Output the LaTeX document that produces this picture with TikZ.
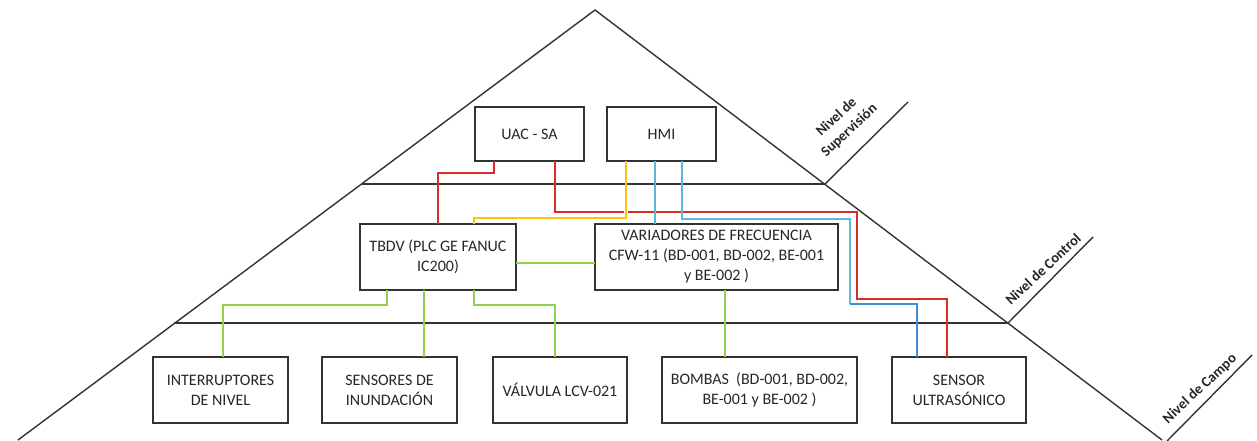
\documentclass[tikz,border=0pt]{standalone}
\usepackage{fontspec}
\setmainfont{Carlito}
\definecolor{ink}{HTML}{262626}
\definecolor{frame}{HTML}{333333}
\definecolor{wred}{HTML}{DA2B2B}
\definecolor{wyel}{HTML}{FFC20E}
\definecolor{wcyan}{HTML}{5BB8D8}
\definecolor{wblue}{HTML}{3C8ED6}
\definecolor{wgreen}{HTML}{92D050}
\begin{document}
\begin{tikzpicture}[x=1pt,y=-1pt,
  box/.style={draw=frame, line width=1.4pt, inner sep=0pt, outer sep=0pt,
    align=center, text=ink, font=\fontsize{16}{20}\selectfont},
  levelline/.style={draw=frame, line width=1.4pt},
  levellabel/.style={rotate=43, align=center, text=ink,
    font=\fontsize{14.5}{18.5}\selectfont\bfseries},
  wire/.style={line width=1.4pt}]
\useasboundingbox (0,0) rectangle (1257,440);
\clip (0,0) rectangle (1257,440);

% pyramid outline and level separators
\draw[levelline] (18,440) -- (595,10) -- (1162,440);
\draw[levelline] (362,184) -- (825,184);
\draw[levelline] (174,323) -- (1008,323);
\draw[levelline] (825,184) -- (908,102);
\draw[levelline] (1008,323) -- (1093,237);
\draw[levelline] (1167,441) -- (1252,355);

% level names
\node[levellabel] (lsup) at (843,124) {Nivel de\\Supervisión};
\node[levellabel] (lctl) at (1043,269) {Nivel de Control};
\node[levellabel] (lcam) at (1200,389) {Nivel de Campo};

% supervision level
\node[box, minimum width=109, minimum height=54] (uac) at (529.5,134) {UAC - SA};
\node[box, minimum width=109, minimum height=54] (hmi) at (661.5,134) {HMI};

% control level
\node[box, minimum width=156, minimum height=66] (tbdv) at (438,257)
  {TBDV (PLC GE FANUC\\IC200)};
\node[box, minimum width=243, minimum height=66] (vfd) at (716.5,257)
  {VARIADORES DE FRECUENCIA\\CFW-11 (BD-001, BD-002, BE-001\\y BE-002 )};

% field level
\node[box, minimum width=135, minimum height=66] (sw) at (220.5,390)
  {INTERRUPTORES\\DE NIVEL};
\node[box, minimum width=135, minimum height=66] (fl) at (389.5,390)
  {SENSORES DE\\INUNDACIÓN};
\node[box, minimum width=134, minimum height=66] (lcv) at (560,390)
  {VÁLVULA LCV-021};
\node[box, minimum width=195, minimum height=66] (pumps) at (759.5,390)
  {BOMBAS\ \ (BD-001, BD-002,\\BE-001 y BE-002 )};
\node[box, minimum width=134, minimum height=66] (us) at (959,390)
  {SENSOR\\ULTRASÓNICO};

% red links from UAC - SA
\draw[wire, wred] (494,0 |- uac.south) |- (438,173) -- (438,0 |- tbdv.north);
\draw[wire, wred] (555,0 |- uac.south) |- (857,212) |- (947,299)
  -- (947,0 |- us.north);

% yellow link HMI - TBDV
\draw[wire, white, line width=4pt] (626,206) -- (626,216);
\draw[wire, wyel] (626,0 |- hmi.south) |- (474,218) -- (474,0 |- tbdv.north);

% blue links from HMI
\draw[wire, wcyan] (655,0 |- hmi.south) -- (655,0 |- vfd.north);
\draw[wire, wcyan] (682,0 |- hmi.south) |- (850,219) -- (850,304);
\draw[wire, wblue] (850,304) -| (917,0 |- us.north);

% green links of the control level
\draw[wire, wgreen] (tbdv.east |- 0,263) -- (vfd.west |- 0,263);
\draw[wire, wgreen] (387,0 |- tbdv.south) |- (223,305) -- (223,0 |- sw.north);
\draw[wire, wgreen] (424,0 |- tbdv.south) -- (424,0 |- fl.north);
\draw[wire, wgreen] (474,0 |- tbdv.south) |- (555,305) -- (555,0 |- lcv.north);
\draw[wire, wgreen] (725,0 |- vfd.south) -- (725,0 |- pumps.north);
\end{tikzpicture}
\end{document}
